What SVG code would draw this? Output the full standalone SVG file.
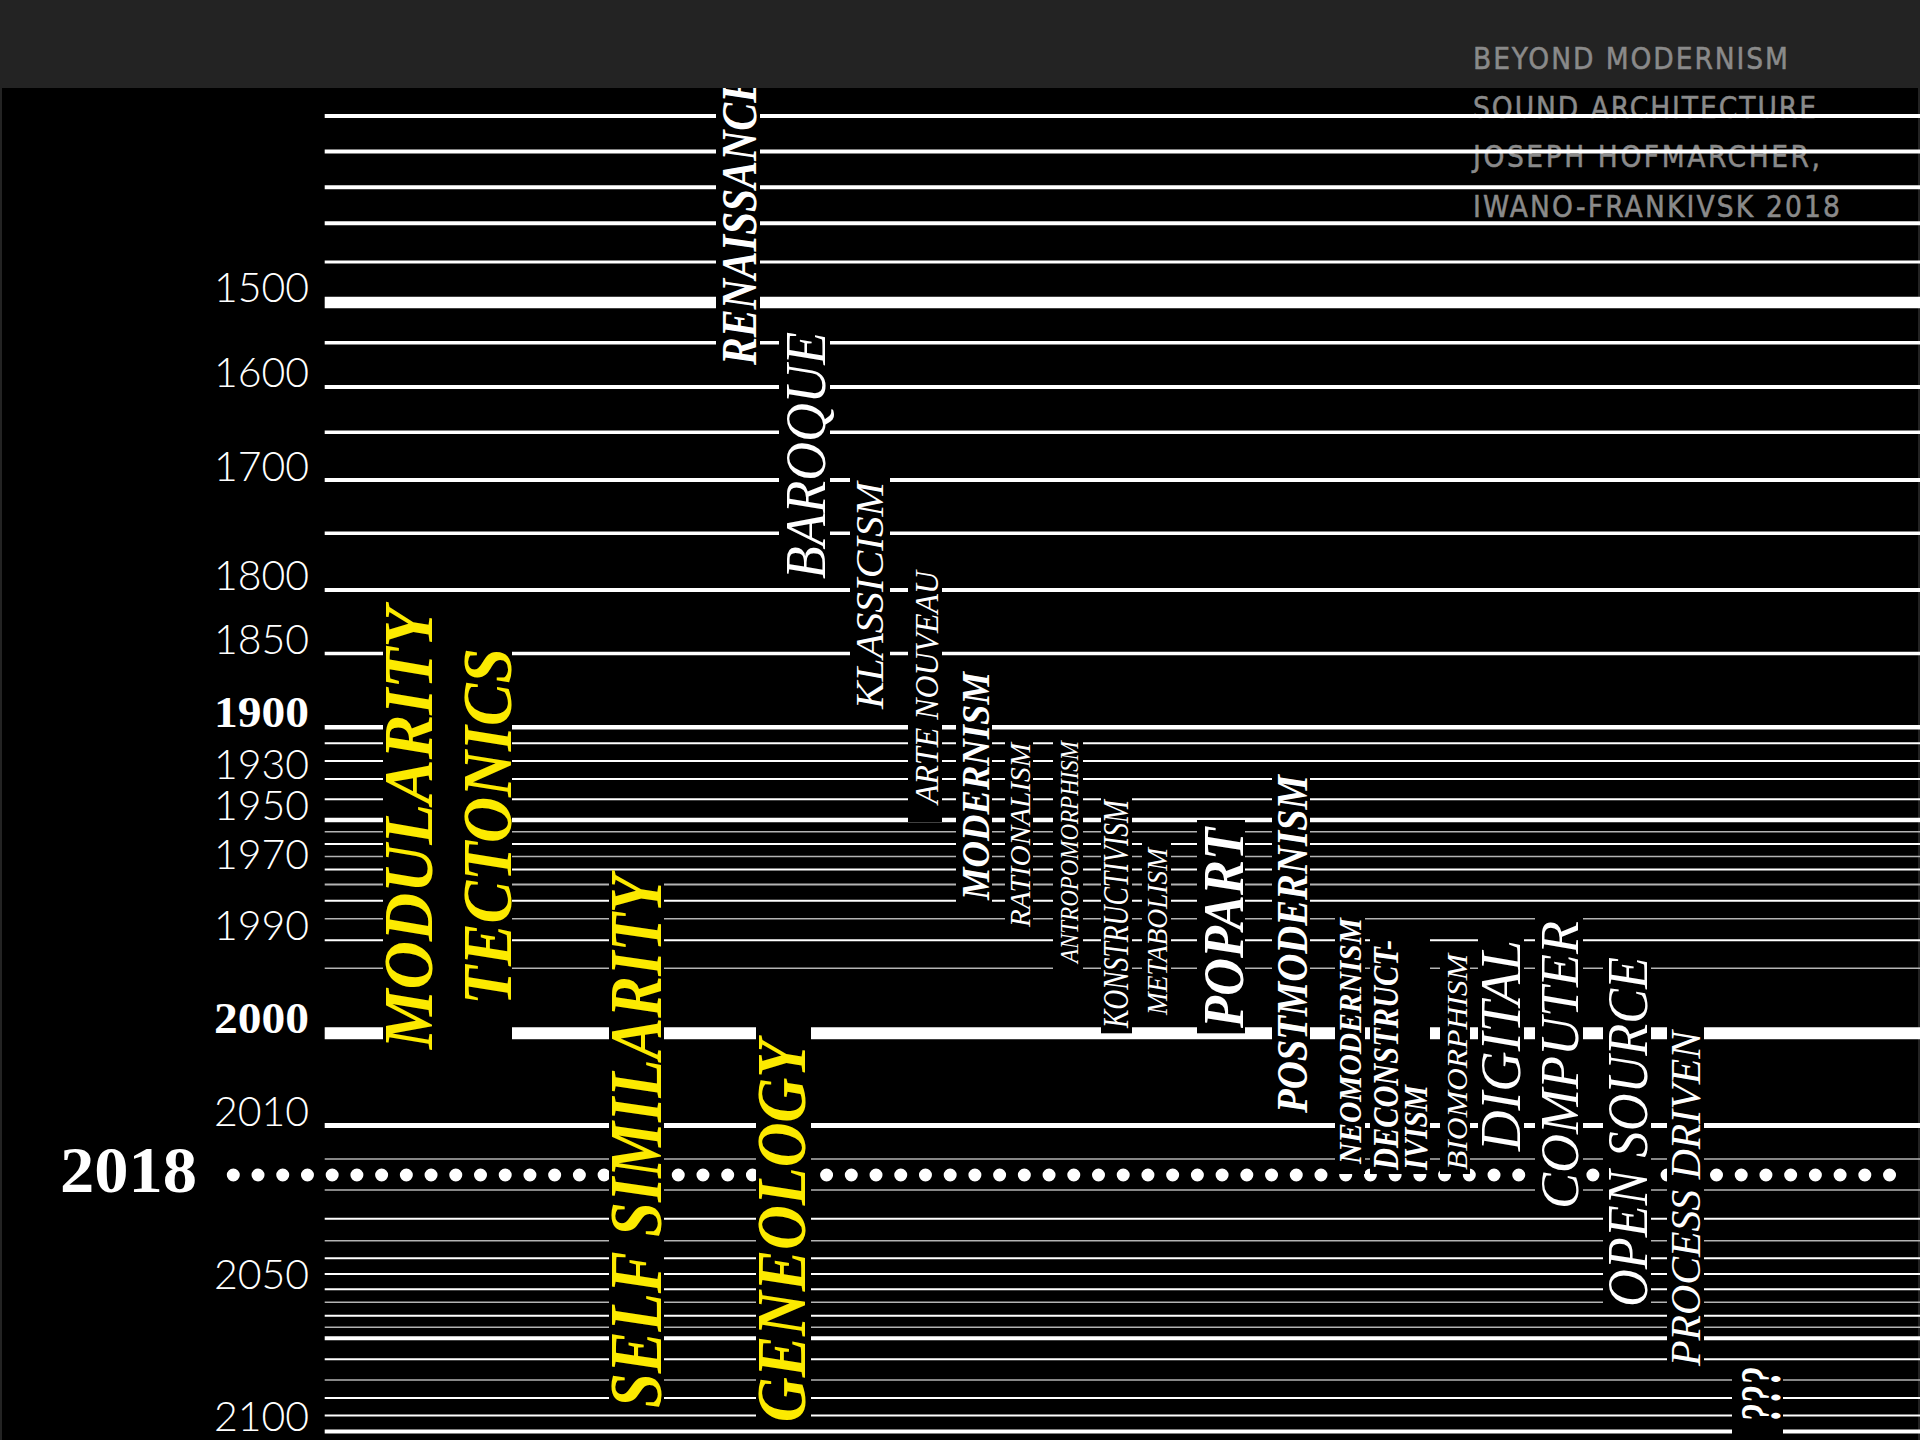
<svg xmlns="http://www.w3.org/2000/svg" width="1920" height="1440" viewBox="0 0 1920 1440">
<style>
.hd{font-family:"DejaVu Sans Condensed","DejaVu Sans",sans-serif;font-stretch:condensed;font-size:29.5px;fill:#8a8a8a;stroke:#8a8a8a;stroke-width:0.5}
.ln{stroke:#fff}
.lg{stroke:#b4b4b4}
.yr{font-family:Lato,"Open Sans",sans-serif;font-weight:300;font-size:41px;fill:#fff;text-anchor:end}
.yb{font-family:"Liberation Serif",serif;font-weight:bold;font-size:45px;fill:#fff;text-anchor:end}
.now{font-size:66px}
.box{fill:#000}
.lab{font-family:"Liberation Serif",serif;font-style:italic;fill:#fff}
.b{font-weight:bold}
.y{fill:#fcea00}
</style>
<rect x="0" y="0" width="1920" height="1440" fill="#232323"/>
<rect x="2" y="88" width="1916" height="1352" fill="#000"/>
<g id="header-sub">
<text class="hd" x="1473" y="117.5" textLength="343">SOUND ARCHITECTURE</text>
<text class="hd" x="1473" y="167" textLength="347">JOSEPH HOFMARCHER,</text>
<text class="hd" x="1473" y="216.5" textLength="367">IWANO-FRANKIVSK 2018</text>
</g>
<g id="connectors">
<line class="ln" x1="324.7" x2="1920" y1="116" y2="116" stroke-width="4"/>
<line class="ln" x1="324.7" x2="1920" y1="151.5" y2="151.5" stroke-width="4"/>
<line class="ln" x1="324.7" x2="1920" y1="187.3" y2="187.3" stroke-width="4"/>
<line class="ln" x1="324.7" x2="1920" y1="223.3" y2="223.3" stroke-width="4"/>
<line class="ln" x1="324.7" x2="1920" y1="262" y2="262" stroke-width="3"/>
<line class="ln" x1="324.7" x2="1920" y1="302.5" y2="302.5" stroke-width="11.6"/>
<line class="ln" x1="324.7" x2="1920" y1="342.7" y2="342.7" stroke-width="3.5"/>
<line class="ln" x1="324.7" x2="1920" y1="387" y2="387" stroke-width="4"/>
<line class="ln" x1="324.7" x2="1920" y1="432.3" y2="432.3" stroke-width="3.5"/>
<line class="ln" x1="324.7" x2="1920" y1="480" y2="480" stroke-width="4"/>
<line class="ln" x1="324.7" x2="1920" y1="533.3" y2="533.3" stroke-width="3.5"/>
<line class="ln" x1="324.7" x2="1920" y1="590" y2="590" stroke-width="4"/>
<line class="ln" x1="324.7" x2="1920" y1="653.5" y2="653.5" stroke-width="3.5"/>
<line class="ln" x1="324.7" x2="1920" y1="727.3" y2="727.3" stroke-width="4.5"/>
<line class="ln" x1="324.7" x2="1920" y1="743.3" y2="743.3" stroke-width="2"/>
<line class="ln" x1="324.7" x2="1920" y1="761" y2="761" stroke-width="2"/>
<line class="ln" x1="324.7" x2="1920" y1="779" y2="779" stroke-width="2"/>
<line class="ln" x1="324.7" x2="1920" y1="799.3" y2="799.3" stroke-width="2"/>
<line class="ln" x1="324.7" x2="1920" y1="820" y2="820" stroke-width="4.5"/>
<line class="lg" x1="324.7" x2="1920" y1="831.7" y2="831.7" stroke-width="1.5"/>
<line class="ln" x1="324.7" x2="1920" y1="844" y2="844" stroke-width="2"/>
<line class="lg" x1="324.7" x2="1920" y1="856.5" y2="856.5" stroke-width="1.5"/>
<line class="ln" x1="324.7" x2="1920" y1="869.5" y2="869.5" stroke-width="2"/>
<line class="lg" x1="324.7" x2="1920" y1="884.5" y2="884.5" stroke-width="2"/>
<line class="ln" x1="324.7" x2="1920" y1="900.7" y2="900.7" stroke-width="2"/>
<line class="lg" x1="324.7" x2="1920" y1="918.7" y2="918.7" stroke-width="1.5"/>
<line class="ln" x1="324.7" x2="1920" y1="940.3" y2="940.3" stroke-width="2"/>
<line class="lg" x1="324.7" x2="1920" y1="968.3" y2="968.3" stroke-width="1.5"/>
<line class="ln" x1="324.7" x2="1920" y1="1033.3" y2="1033.3" stroke-width="12"/>
<line class="ln" x1="324.7" x2="1920" y1="1125.5" y2="1125.5" stroke-width="5"/>
<line class="lg" x1="324.7" x2="1920" y1="1159" y2="1159" stroke-width="1.5"/>
<line class="lg" x1="324.7" x2="1920" y1="1190" y2="1190" stroke-width="1.5"/>
<line class="ln" x1="324.7" x2="1920" y1="1218.7" y2="1218.7" stroke-width="2"/>
<line class="lg" x1="324.7" x2="1920" y1="1240.7" y2="1240.7" stroke-width="1.5"/>
<line class="ln" x1="324.7" x2="1920" y1="1258.3" y2="1258.3" stroke-width="2"/>
<line class="ln" x1="324.7" x2="1920" y1="1274" y2="1274" stroke-width="2"/>
<line class="ln" x1="324.7" x2="1920" y1="1289.3" y2="1289.3" stroke-width="2"/>
<line class="lg" x1="324.7" x2="1920" y1="1302.3" y2="1302.3" stroke-width="1.5"/>
<line class="ln" x1="324.7" x2="1920" y1="1315.7" y2="1315.7" stroke-width="2"/>
<line class="lg" x1="324.7" x2="1920" y1="1327.3" y2="1327.3" stroke-width="1.5"/>
<line class="ln" x1="324.7" x2="1920" y1="1338.3" y2="1338.3" stroke-width="4"/>
<line class="ln" x1="324.7" x2="1920" y1="1359.3" y2="1359.3" stroke-width="2"/>
<line class="lg" x1="324.7" x2="1920" y1="1380" y2="1380" stroke-width="1.5"/>
<line class="ln" x1="324.7" x2="1920" y1="1398" y2="1398" stroke-width="2"/>
<line class="ln" x1="324.7" x2="1920" y1="1415.5" y2="1415.5" stroke-width="2"/>
<line class="ln" x1="324.7" x2="1920" y1="1431.5" y2="1431.5" stroke-width="4"/>
<line id="now-2018" x1="233.3" x2="1900" y1="1175" y2="1175" stroke="#fff" stroke-width="13" stroke-linecap="round" stroke-dasharray="0 24.72"/>
</g>
<g id="years">
<text class="yr" x="309" y="302">1500</text>
<text class="yr" x="309" y="387">1600</text>
<text class="yr" x="309" y="481">1700</text>
<text class="yr" x="309" y="590">1800</text>
<text class="yr" x="309" y="654">1850</text>
<text class="yb" x="309" y="727" textLength="95" lengthAdjust="spacingAndGlyphs">1900</text>
<text class="yr" x="309" y="779">1930</text>
<text class="yr" x="309" y="820">1950</text>
<text class="yr" x="309" y="869">1970</text>
<text class="yr" x="309" y="940">1990</text>
<text class="yb" x="309" y="1033" textLength="95" lengthAdjust="spacingAndGlyphs">2000</text>
<text class="yr" x="309" y="1125.5">2010</text>
<text class="yb now" x="197" y="1191.5" textLength="137" lengthAdjust="spacingAndGlyphs">2018</text>
<text class="yr" x="309" y="1289">2050</text>
<text class="yr" x="309" y="1431">2100</text>
</g>
<g id="modularity"><rect class="box" x="383" y="600" width="54" height="454"/><text class="lab b y" font-size="70" transform="translate(432,1049) rotate(-90)" textLength="442" lengthAdjust="spacingAndGlyphs">MODULARITY</text></g>
<g id="tectonics"><rect class="box" x="437" y="642" width="75" height="400"/><text class="lab b y" font-size="70" transform="translate(511,1005) rotate(-90)" textLength="357" lengthAdjust="spacingAndGlyphs">TECTONICS</text></g>
<g id="self-similarity"><rect class="box" x="609" y="871" width="55" height="541"/><text class="lab b y" font-size="74" transform="translate(661,1408) rotate(-90)" textLength="533" lengthAdjust="spacingAndGlyphs">SELF SIMILARITY</text></g>
<g id="geneology"><rect class="box" x="756" y="1020" width="55" height="406"/><text class="lab b y" font-size="70" transform="translate(805,1422) rotate(-90)" textLength="382" lengthAdjust="spacingAndGlyphs">GENEOLOGY</text></g>
<g id="renaissance"><rect class="box" x="716" y="88" width="44" height="281"/><text class="lab b" font-size="51.5" transform="translate(756,365) rotate(-90)" textLength="290" lengthAdjust="spacingAndGlyphs">RENAISSANCE</text></g>
<g id="baroque"><rect class="box" x="779" y="322" width="51" height="260"/><text class="lab" font-size="56" transform="translate(825,579) rotate(-90)" textLength="247" lengthAdjust="spacingAndGlyphs">BAROQUE</text></g>
<g id="klassicism"><rect class="box" x="850" y="470" width="40" height="244"/><text class="lab" font-size="41" transform="translate(883,709) rotate(-90)" textLength="227" lengthAdjust="spacingAndGlyphs">KLASSICISM</text></g>
<g id="arte-nouveau"><rect class="box" x="908" y="562" width="34" height="260"/><text class="lab" font-size="33" transform="translate(938,804) rotate(-90)" textLength="233" lengthAdjust="spacingAndGlyphs">ARTE NOUVEAU</text></g>
<g id="modernism"><rect class="box" x="956" y="664" width="36" height="242"/><text class="lab b" font-size="41" transform="translate(989,900) rotate(-90)" textLength="228" lengthAdjust="spacingAndGlyphs">MODERNISM</text></g>
<g id="rationalism"><rect class="box" x="1005" y="737" width="28" height="195"/><text class="lab" font-size="30" transform="translate(1030,927) rotate(-90)" textLength="184" lengthAdjust="spacingAndGlyphs">RATIONALISM</text></g>
<g id="antropomorphism"><rect class="box" x="1053" y="735" width="30" height="235"/><text class="lab" font-size="25" transform="translate(1078,963) rotate(-90)" textLength="222" lengthAdjust="spacingAndGlyphs">ANTROPOMORPHISM</text></g>
<g id="konstructivism"><rect class="box" x="1101" y="795" width="31" height="238.3"/><text class="lab" font-size="35" transform="translate(1128,1028) rotate(-90)" textLength="228" lengthAdjust="spacingAndGlyphs">KONSTRUCTIVISM</text></g>
<g id="metabolism"><rect class="box" x="1142" y="842" width="29" height="178"/><text class="lab" font-size="29" transform="translate(1167,1015) rotate(-90)" textLength="167" lengthAdjust="spacingAndGlyphs">METABOLISM</text></g>
<g id="popart"><rect class="box" x="1197" y="820" width="48" height="213.3"/><text class="lab b" font-size="58" transform="translate(1243,1028) rotate(-90)" textLength="200" lengthAdjust="spacingAndGlyphs">POPART</text></g>
<g id="postmodernism"><rect class="box" x="1272" y="768" width="38" height="351"/><text class="lab b" font-size="44" transform="translate(1307,1113) rotate(-90)" textLength="338" lengthAdjust="spacingAndGlyphs">POSTMODERNISM</text></g>
<g id="neomodernism"><rect class="box" x="1335" y="912" width="30" height="262"/><text class="lab b" font-size="32" transform="translate(1361,1164) rotate(-90)" textLength="246" lengthAdjust="spacingAndGlyphs">NEOMODERNISM</text></g>
<g id="deconstructivism"><rect class="box" x="1370" y="934" width="60" height="240"/><text class="lab b" font-size="35" transform="translate(1398,1170) rotate(-90)" textLength="230" lengthAdjust="spacingAndGlyphs">DECONSTRUCT-</text><text class="lab b" font-size="34" transform="translate(1427,1170) rotate(-90)" textLength="85" lengthAdjust="spacingAndGlyphs">IVISM</text></g>
<g id="biomorphism"><rect class="box" x="1440" y="947" width="30" height="227"/><text class="lab" font-size="30" transform="translate(1467,1170) rotate(-90)" textLength="216" lengthAdjust="spacingAndGlyphs">BIOMORPHISM</text></g>
<g id="digital"><rect class="box" x="1478" y="934" width="46" height="224"/><text class="lab" font-size="56" transform="translate(1520,1151) rotate(-90)" textLength="211" lengthAdjust="spacingAndGlyphs">DIGITAL</text></g>
<g id="computer"><rect class="box" x="1535" y="915" width="48" height="299"/><text class="lab" font-size="55" transform="translate(1578,1209) rotate(-90)" textLength="288" lengthAdjust="spacingAndGlyphs">COMPUTER</text></g>
<g id="open-source"><rect class="box" x="1603" y="950" width="48" height="362"/><text class="lab" font-size="56" transform="translate(1647,1307) rotate(-90)" textLength="350" lengthAdjust="spacingAndGlyphs">OPEN SOURCE</text></g>
<g id="process-driven"><rect class="box" x="1667" y="1022" width="37" height="348"/><text class="lab" font-size="42" transform="translate(1700,1366) rotate(-90)" textLength="335" lengthAdjust="spacingAndGlyphs">PROCESS DRIVEN</text></g>
<g id="unknown"><rect class="box" x="1732" y="1364" width="51" height="72"/><text class="lab b" font-size="58" transform="translate(1780,1422) rotate(-90)" textLength="55" lengthAdjust="spacingAndGlyphs">???</text></g>
<rect id="header-band" x="0" y="0" width="1920" height="88" fill="#232323"/>
<g id="header-title"><text class="hd" x="1473" y="69.3" textLength="315">BEYOND MODERNISM</text></g>
</svg>
